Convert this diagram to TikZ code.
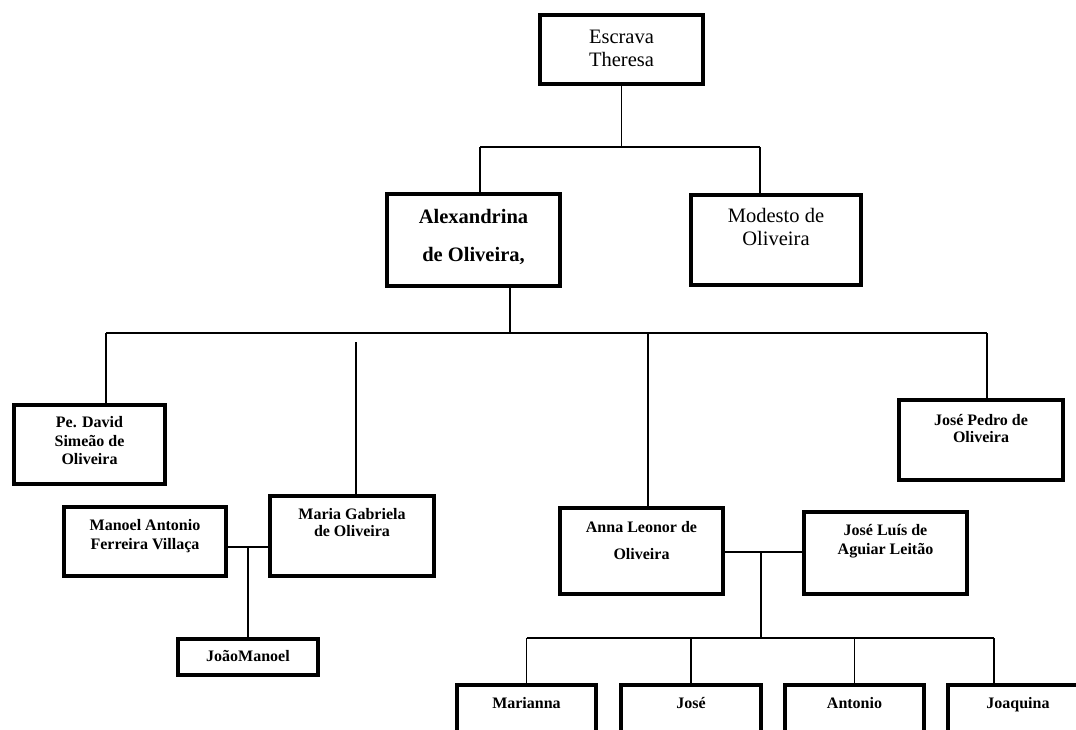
\documentclass[tikz,border=0pt]{standalone}
\usepackage{fontspec}
\setmainfont{Liberation Serif}
\usetikzlibrary{positioning, calc}

\begin{document}
\begin{tikzpicture}[x=1pt, y=-1pt,
    person/.style={draw, line width=4pt, inner sep=0pt},
    link/.style={line width=1.3pt},
    plain/.style={align=center, inner sep=0pt, font=\fontsize{20.5}{23}\selectfont},
    bold/.style={align=center, inner sep=0pt, font=\bfseries\fontsize{16}{#1}\selectfont},
    bold/.default=18.5]
    \useasboundingbox (0,0) rectangle (1076,729);

    % First generation
    \node[person, minimum width=163, minimum height=69,
          label={[plain, below=16.5pt]north:Escrava\\Theresa}] (theresa) at (621.5,49.5) {};

    % Children of Theresa
    \node[person, minimum width=173, minimum height=92,
          label={[align=center, inner sep=0pt, font=\bfseries\fontsize{20.5}{38}\selectfont, below=17pt]north:Alexandrina\\de Oliveira,}] (alex) at (473.5,240) {};
    \node[person, minimum width=170, minimum height=90,
          label={[plain, below=15pt]north:Modesto de\\Oliveira}] (modesto) at (776,240) {};

    % Children of Alexandrina
    \node[person, minimum width=151, minimum height=79,
          label={[bold, below=13.2pt]north:Pe. David\\Simeão de\\Oliveira}] (david) at (89.5,444.5) {};
    \node[person, minimum width=164, minimum height=80,
          label={[bold=17, below=14.2pt]north:Maria Gabriela\\de Oliveira}] (maria) at (352,536) {};
    \node[person, minimum width=163, minimum height=86,
          label={[bold=27.5, below=14.7pt]north:Anna Leonor de\\Oliveira}] (anna) at (641.5,551) {};
    \node[person, minimum width=164, minimum height=80,
          label={[bold=17, below=16pt]north:José Pedro de\\Oliveira}] (josepedro) at (981,440) {};

    % Spouses
    \node[person, minimum width=162, minimum height=69,
          label={[bold=19, below=14.2pt]north:Manoel Antonio\\Ferreira Villaça}] (manoel) at (145,541.5) {};
    \node[person, minimum width=163, minimum height=82,
          label={[bold=19, below=14pt]north:José Luís de\\Aguiar Leitão}] (joseluis) at (885.5,553) {};

    % Grandchildren
    \node[person, minimum width=140, minimum height=36,
          label={[bold, below=13.2pt]north:JoãoManoel}] (joao) at (248,657) {};
    \node[person, minimum width=139, minimum height=80,
          label={[bold, below=14.2pt]north:Marianna}] (marianna) at (526.5,725) {};
    \node[person, minimum width=140, minimum height=80,
          label={[bold, below=14.2pt]north:José}] (jose) at (691,725) {};
    \node[person, minimum width=139, minimum height=80,
          label={[bold, below=14.2pt]north:Antonio}] (antonio) at (854.5,725) {};
    \node[person, minimum width=140, minimum height=80,
          label={[bold, below=14.2pt]north:Joaquina}] (joaquina) at (1018,725) {};

    % Connections
    \coordinate (t1) at (480,147);
    \coordinate (t2) at (760,147);
    \draw[link] (theresa.south) -- (theresa.south |- t1);
    \draw[link] (t1) -- (t2);
    \draw[link] (t1) -- (t1 |- alex.north);
    \draw[link] (t2) -- (t2 |- modesto.north);

    \coordinate (a0) at (510,333);
    \coordinate (a1) at (106,333);
    \coordinate (a2) at (987,333);
    \coordinate (a3) at (356,342);
    \coordinate (a4) at (648,334);
    \draw[link] (a0 |- alex.south) -- (a0);
    \draw[link] (a1) -- (a2);
    \draw[link] (a1) -- (a1 |- david.north);
    \draw[link] (a2) -- (a2 |- josepedro.north);
    \draw[link] (a3) -- (a3 |- maria.north);
    \draw[link] (a4) -- (a4 |- anna.north);

    \coordinate (m1) at (248,547);
    \draw[link] (m1 -| manoel.east) -- (m1 -| maria.west);
    \draw[link] (m1) -- (m1 |- joao.north);

    \coordinate (m2) at (761,552);
    \coordinate (g1) at (761,638);
    \coordinate (g2) at (994,638);
    \draw[link] (m2 -| anna.east) -- (m2 -| joseluis.west);
    \draw[link] (m2) -- (g1);
    \draw[link] (g1 -| marianna.north) -- (g2);
    \foreach \kid in {marianna, jose, antonio}
        \draw[link] (g1 -| \kid.north) -- (\kid.north);
    \draw[link] (g2) -- (g2 |- joaquina.north);
\end{tikzpicture}
\end{document}
